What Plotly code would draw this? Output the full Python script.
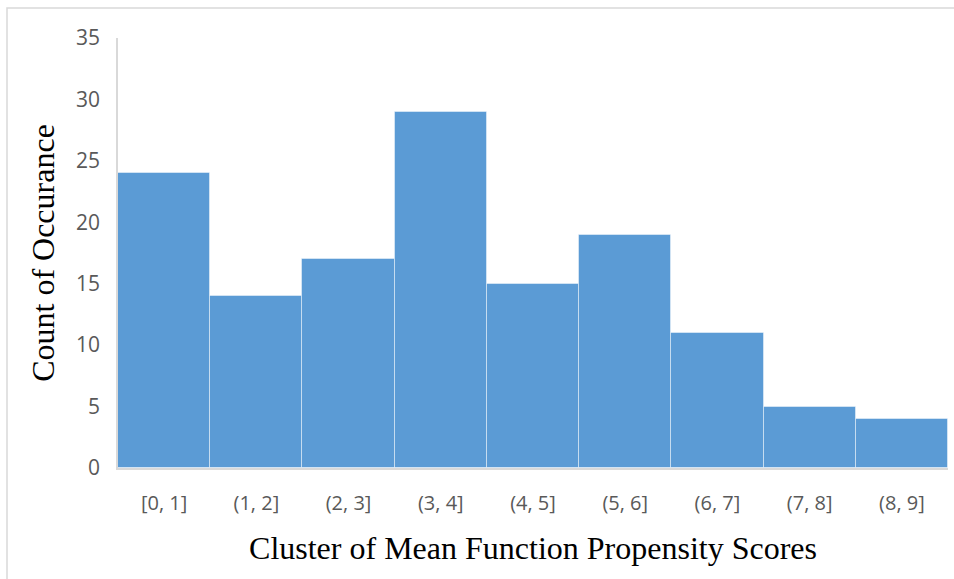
import plotly.graph_objects as go

categories = ["[0, 1]", "(1, 2]", "(2, 3]", "(3, 4]", "(4, 5]", "(5, 6]", "(6, 7]", "(7, 8]", "(8, 9]"]
counts = [24, 14, 17, 29, 15, 19, 11, 5, 4]
y_ticks = [0, 5, 10, 15, 20, 25, 30, 35]

fig = go.Figure(go.Bar(
    x=categories, y=counts,
    marker=dict(color="#5B9BD5", line=dict(color="rgba(255,255,255,0.45)", width=1)),
))

fig.update_layout(
    width=954, height=579,
    margin=dict(l=118, r=6, t=38, b=111),
    paper_bgcolor="white", plot_bgcolor="white",
    bargap=0, showlegend=False,
    xaxis=dict(
        showline=True, linecolor="#d9d9d9", linewidth=1.5,
        showgrid=False, ticks="", ticklabelstandoff=16,
        tickfont=dict(family="Open Sans", size=20, color="#595959"),
        title=dict(text="Cluster of Mean Function Propensity Scores",
                   font=dict(family="Liberation Serif", size=32, color="black"),
                   standoff=22),
    ),
    yaxis=dict(
        range=[0, 35], tickvals=y_ticks,
        showline=True, linecolor="#d9d9d9", linewidth=1.5,
        showgrid=False, ticks="", ticklabelstandoff=12, zeroline=False,
        tickfont=dict(family="Open Sans", size=21, color="#595959"),
        title=dict(text="Count of Occurance",
                   font=dict(family="Liberation Serif", size=32, color="black"),
                   standoff=12),
    ),
    shapes=[dict(type="rect", xref="paper", yref="paper",
                 x0=(7 - 118) / 830, x1=1.2, y0=-1, y1=1 + (38 - 8) / 430,
                 line=dict(color="#d9d9d9", width=1.5), fillcolor="rgba(0,0,0,0)", layer="below")],
)

fig.write_html("out.html")
